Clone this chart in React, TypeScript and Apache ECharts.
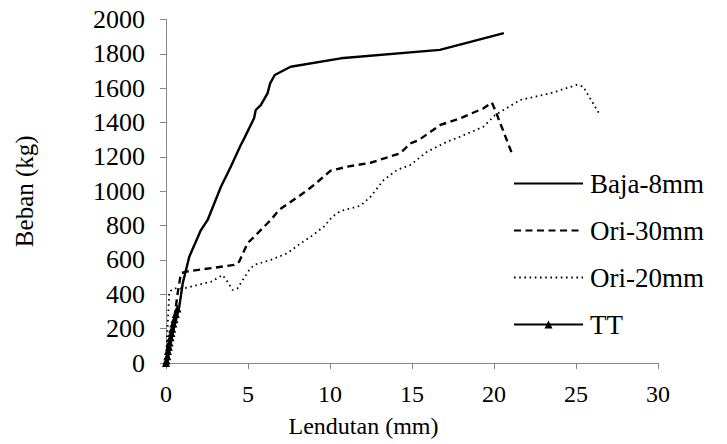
import React, { useEffect, useRef } from "react";
import * as echarts from "echarts";

const seriesNames = ["Baja-8mm", "Ori-30mm", "Ori-20mm", "TT"];

const baja8X = [0, 0.1, 0.4, 0.81, 1.02, 1.42, 2.13, 2.54, 3.35, 3.95, 4.56, 4.77, 5.37, 5.47, 5.78, 6.19, 6.35, 6.63, 7.6, 10.65, 16.7, 20.6];
const baja8Y = [0, 17, 170, 328, 464, 619, 774, 833, 1026, 1143, 1269, 1308, 1425, 1473, 1502, 1570, 1628, 1677, 1725, 1774, 1823, 1921];

const ori30X = [0, 0.1, 0.3, 0.5, 0.7, 0.91, 1.22, 4.15, 4.46, 4.97, 5.58, 6.39, 6.89, 8.21, 9.02, 10.04, 11.05, 12.47, 14.29, 14.9, 15.41, 16.73, 17.94, 19.36, 19.87, 20.07, 21.09];
const ori30Y = [0, 56, 150, 250, 400, 522, 532, 571, 590, 697, 755, 833, 891, 978, 1036, 1120, 1143, 1166, 1221, 1279, 1298, 1386, 1425, 1483, 1516, 1473, 1221];

const ori20X = [0, 0.06, 0.2, 0.5, 1.11, 2.74, 3.45, 3.75, 4.06, 4.36, 5.07, 5.37, 6.39, 7.4, 8.21, 8.82, 9.63, 10.14, 10.64, 11.86, 12.47, 13.28, 14.09, 14.9, 15.92, 17.13, 17.94, 19.36, 20.07, 21.59, 23.42, 25.04, 25.44, 26.46];
const ori20Y = [0, 134, 415, 435, 435, 473, 512, 473, 425, 435, 541, 571, 600, 639, 697, 735, 794, 852, 885, 916, 968, 1066, 1124, 1153, 1230, 1288, 1318, 1376, 1444, 1531, 1570, 1619, 1609, 1444];

const ttX = [0, 0.03, 0.08, 0.12, 0.18, 0.22, 0.28, 0.33, 0.38, 0.45, 0.52, 0.6, 0.7];
const ttY = [0, 15, 40, 70, 95, 120, 150, 175, 200, 230, 255, 285, 318];

const xTicks = [0, 5, 10, 15, 20, 25, 30];
const yTicks = [0, 200, 400, 600, 800, 1000, 1200, 1400, 1600, 1800, 2000];

const zip = (xs: number[], ys: number[]) => xs.map((x, i) => [x, ys[i]]);

const FONT = "Liberation Serif";

export default function App() {
  const ref = useRef<HTMLDivElement>(null);
  useEffect(() => {
    if (!ref.current) return;
    const chart = echarts.init(ref.current, undefined, { renderer: "svg" });
    const axisLineStyle = { color: "#868686", width: 1 };
    const hiddenSymbol = { opacity: 0 };
    chart.setOption({
      animation: false,
      backgroundColor: "#ffffff",
      textStyle: { fontFamily: FONT, color: "#000" },
      grid: { left: 166, right: 69, top: 19.5, bottom: 81 },
      legend: {
        orient: "vertical",
        left: 513,
        top: 170,
        padding: 0,
        itemWidth: 69,
        itemHeight: 10,
        itemGap: 20,
        data: [
          { name: seriesNames[0], itemStyle: hiddenSymbol },
          { name: seriesNames[1], itemStyle: hiddenSymbol },
          { name: seriesNames[2], itemStyle: hiddenSymbol },
          { name: seriesNames[3] },
        ],
        textStyle: { fontFamily: FONT, fontSize: 27, color: "#000", lineHeight: 26, padding: [0, 0, 0, 2] },
      },
      xAxis: {
        type: "value",
        min: xTicks[0],
        max: xTicks[xTicks.length - 1],
        interval: 5,
        name: "Lendutan (mm)",
        nameLocation: "middle",
        nameGap: 51,
        nameTextStyle: { fontFamily: FONT, fontSize: 24, color: "#000", padding: [0, 97, 0, 0] },
        axisLine: { show: true, lineStyle: axisLineStyle },
        axisTick: { show: true, inside: false, length: 6, lineStyle: axisLineStyle },
        axisLabel: { fontFamily: FONT, fontSize: 24, color: "#000", margin: 19, formatter: (v: number) => String(v) },
        splitLine: { show: false },
      },
      yAxis: {
        type: "value",
        min: yTicks[0],
        max: yTicks[yTicks.length - 1],
        interval: 200,
        name: "Beban (kg)",
        nameLocation: "middle",
        nameGap: 129,
        nameRotate: 90,
        nameTextStyle: { fontFamily: FONT, fontSize: 25, color: "#000" },
        axisLine: { show: true, lineStyle: axisLineStyle },
        axisTick: { show: true, inside: false, length: 6, lineStyle: axisLineStyle },
        axisLabel: { fontFamily: FONT, fontSize: 26, color: "#000", margin: 21, formatter: (v: number) => String(v) },
        splitLine: { show: false },
      },
      series: [
        {
          name: seriesNames[0],
          type: "line",
          data: zip(baja8X, baja8Y),
          symbol: "none",
          lineStyle: { color: "#000", width: 2.4, type: "solid" },
          itemStyle: { color: "#000" },
          z: 4,
        },
        {
          name: seriesNames[1],
          type: "line",
          data: zip(ori30X, ori30Y),
          symbol: "none",
          lineStyle: { color: "#000", width: 2.4, type: [7, 4.5] },
          itemStyle: { color: "#000" },
          z: 3,
        },
        {
          name: seriesNames[2],
          type: "line",
          data: zip(ori20X, ori20Y),
          symbol: "none",
          lineStyle: { color: "#000", width: 1.8, type: [1.6, 3.6] },
          itemStyle: { color: "#000" },
          z: 2,
        },
        {
          name: seriesNames[3],
          type: "line",
          data: zip(ttX, ttY),
          symbol: "triangle",
          symbolSize: 8,
          showSymbol: true,
          lineStyle: { color: "#000", width: 2.4, type: "solid" },
          itemStyle: { color: "#000", borderWidth: 0 },
          z: 5,
        },
      ],
    });
    return () => chart.dispose();
  }, []);
  return <div ref={ref} style={{ width: 727, height: 444, position: "absolute", left: 0, top: 0 }} />;
}
